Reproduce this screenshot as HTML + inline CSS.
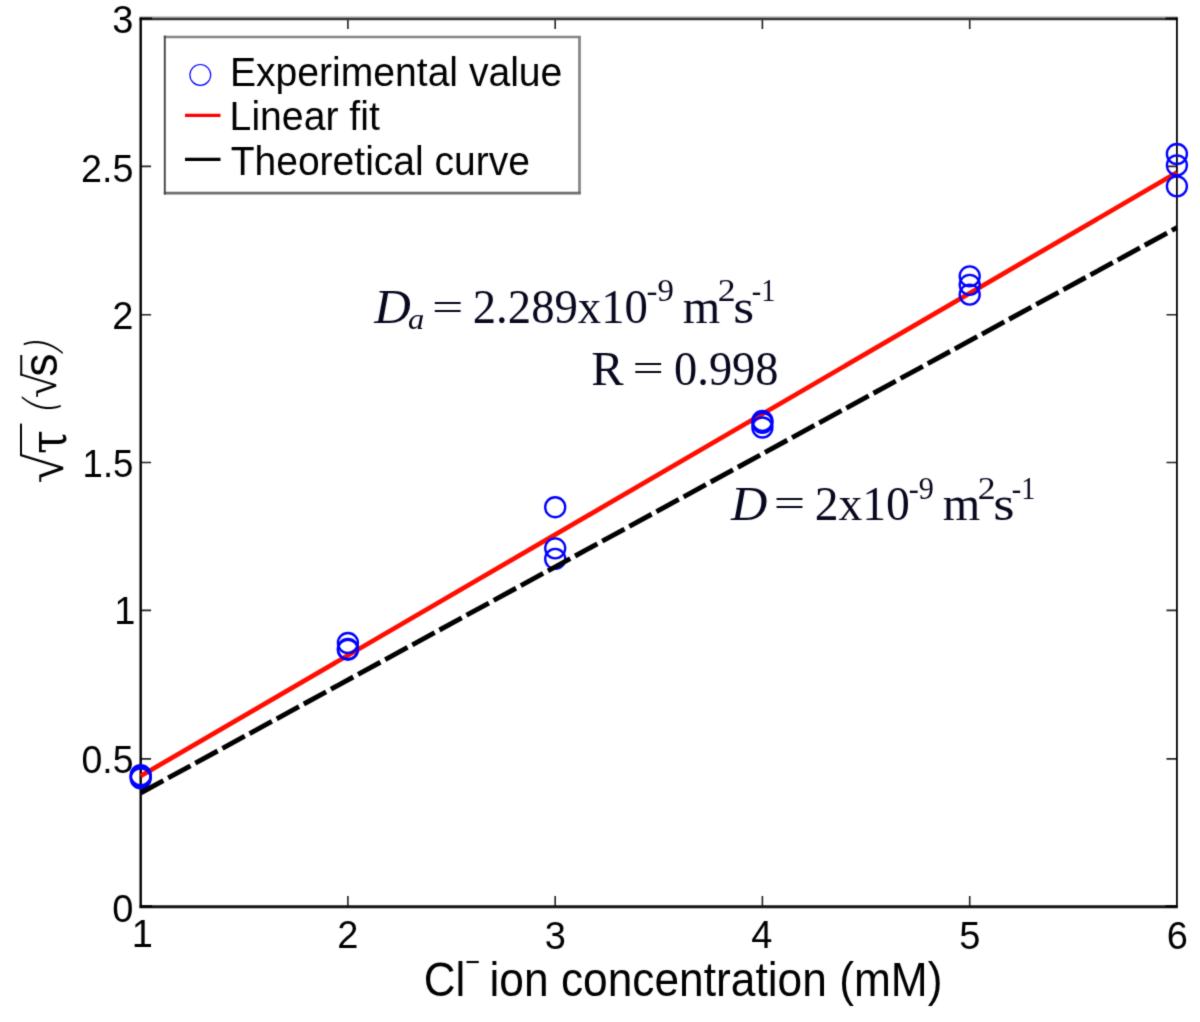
<!DOCTYPE html>
<html lang="en"><head><meta charset="utf-8"><title>Chronopotentiometry: sqrt(tau) vs Cl- ion concentration</title>
<style>html,body{margin:0;padding:0;background:#fff}body{width:1200px;height:1022px;overflow:hidden}svg{display:block}.s{font-family:"Liberation Sans", Arial, Helvetica, sans-serif;fill:#000}.t{font-family:"Liberation Serif", "Times New Roman", Times, serif;fill:#07071e}.r{font-family:"Liberation Serif", "Times New Roman", Times, serif}.d{font-family:"DejaVu Serif","Liberation Serif", "Times New Roman", Times, serif}.p{font-family:"DejaVu Sans Light","DejaVu Sans","Liberation Sans", Arial, Helvetica, sans-serif;font-weight:200;fill:#000}text{white-space:pre}</style></head><body>
<svg role="img" aria-label="Plot of square root of transition time versus chloride ion concentration" width="1200" height="1022" viewBox="0 0 1200 1022">
<rect width="1200" height="1022" fill="#fff"/>
<defs><filter id="soft" filterUnits="userSpaceOnUse" x="0" y="0" width="1200" height="1022" color-interpolation-filters="sRGB"><feConvolveMatrix order="3" kernelMatrix="0.0192 0.1001 0.0192 0.1001 0.5228 0.1001 0.0192 0.1001 0.0192" divisor="1" edgeMode="duplicate" preserveAlpha="false"/></filter></defs>
<g filter="url(#soft)">
<g stroke="#222" stroke-width="1.6" fill="none">
<path d="M347.9 906.3 V895.9M347.9 18.5 V28.9"/>
<path d="M555.2 906.3 V895.9M555.2 18.5 V28.9"/>
<path d="M762.4 906.3 V895.9M762.4 18.5 V28.9"/>
<path d="M969.7 906.3 V895.9M969.7 18.5 V28.9"/>
<path d="M140.7 758.9 H151.1M1176.9 758.9 H1166.5"/>
<path d="M140.7 610.4 H151.1M1176.9 610.4 H1166.5"/>
<path d="M140.7 462.5 H151.1M1176.9 462.5 H1166.5"/>
<path d="M140.7 314.8 H151.1M1176.9 314.8 H1166.5"/>
<path d="M140.7 166.4 H151.1M1176.9 166.4 H1166.5"/>
</g>
<path d="M139.5 17.3H1177.8" stroke="#9a9a9a" stroke-width="1.6" fill="none"/>
<path d="M139.5 19.1H1177.8" stroke="#343434" stroke-width="2.2" fill="none"/>
<path d="M1176.9 17.4V907.5" stroke="#000" stroke-width="1.8" fill="none"/>
<path d="M139.5 906.7H1177.8" stroke="#141414" stroke-width="3" fill="none"/>
<path d="M140.7 17.4V907.5" stroke="#000" stroke-width="2.4" fill="none"/>
<path d="M140.7 18.5h11.4M1176.9 18.5h-11.4M140.7 906.3h11.4M1176.9 906.3h-11.4" stroke="#000" stroke-width="2.2" fill="none"/>
<line x1="140.7" y1="776.00" x2="1176.9" y2="172.59" stroke="#ff0d00" stroke-width="4.7"/>
<g fill="none" stroke="#0000ff" stroke-width="2.35">
<circle cx="140.7" cy="775.2" r="10"/>
<circle cx="140.7" cy="776.7" r="10"/>
<circle cx="140.7" cy="778.3" r="10"/>
<circle cx="347.9" cy="643.0" r="10"/>
<circle cx="347.9" cy="649.7" r="10"/>
<circle cx="347.9" cy="648.9" r="10"/>
<circle cx="555.2" cy="507.2" r="10"/>
<circle cx="555.2" cy="548.3" r="10"/>
<circle cx="555.2" cy="558.9" r="10"/>
<circle cx="762.4" cy="420.8" r="10"/>
<circle cx="762.4" cy="422.8" r="10"/>
<circle cx="762.4" cy="427.5" r="10"/>
<circle cx="969.7" cy="276.3" r="10"/>
<circle cx="969.7" cy="284.8" r="10"/>
<circle cx="969.7" cy="294.6" r="10"/>
<circle cx="1176.9" cy="154.0" r="10"/>
<circle cx="1176.9" cy="165.3" r="10"/>
<circle cx="1176.9" cy="186.3" r="10"/>
</g>
<line x1="140.7" y1="792.96" x2="1176.9" y2="227.72" stroke="#000" stroke-width="4.9" stroke-dasharray="25.4 5.5" stroke-dashoffset="-0.4"/>
<text class="s" font-size="38" text-anchor="end" x="133.3" y="921.5">0</text>
<text class="s"><tspan x="81.45" y="773.13" font-size="38" textLength="52.00" lengthAdjust="spacingAndGlyphs">0.5</tspan></text>
<text class="s" font-size="38" text-anchor="end" x="135.5" y="623.7">1</text>
<text class="s"><tspan x="82.55" y="477.35" font-size="38" textLength="50.87" lengthAdjust="spacingAndGlyphs">1.5</tspan></text>
<text class="s" font-size="38" text-anchor="end" x="133.3" y="328.9">2</text>
<text class="s"><tspan x="81.06" y="181.77" font-size="38" textLength="52.40" lengthAdjust="spacingAndGlyphs">2.5</tspan></text>
<text class="s" font-size="38" text-anchor="end" x="133.3" y="33.3">3</text>
<g class="s" font-size="38" text-anchor="middle">
<text x="142.4" y="947.4">1</text>
<text x="347.9" y="947.5">2</text>
<text x="555.2" y="949.2">3</text>
<text x="761.8" y="947.5">4</text>
<text x="969.7" y="949.2">5</text>
<text x="1177.4" y="949.0">6</text>
</g>
<text class="s"><tspan x="423.80" y="996.00" font-size="48.5" textLength="41.57" lengthAdjust="spacingAndGlyphs">Cl</tspan><tspan x="465.34" y="972.20" font-size="30" textLength="14.78" lengthAdjust="spacingAndGlyphs">−</tspan> <tspan x="489.51" y="996.00" font-size="48.5" textLength="452.97" lengthAdjust="spacingAndGlyphs">ion concentration (mM)</tspan></text>
<g transform="rotate(-90)">
<text class="s"><tspan class="r"><tspan x="-483.35" y="62.70" font-size="54">√</tspan></tspan><tspan x="-453.98" y="65.90" font-size="51.5" class="d" textLength="23.84" lengthAdjust="spacingAndGlyphs">τ</tspan> </text>
<text class="p" font-size="43.9" transform="translate(-416.2 55.45) skewX(-12.7)">(</text>
<text class="s"><tspan class="r"><tspan x="-398.12" y="55.95" font-size="45">√</tspan></tspan><tspan x="-376.63" y="56.90" font-size="47.5" textLength="23.31" lengthAdjust="spacingAndGlyphs">s</tspan></text>
<text class="p" font-size="43.9" transform="translate(-357.6 57.05) skewX(-12.7)">)</text>
<path d="M-455.9 21H-423.6M-375.5 21.35H-355" stroke="#000" stroke-width="2" fill="none"/>
</g>
<rect x="164.8" y="37" width="414.7" height="156.2" fill="#fff"/>
<path d="M163.8 37H580.9" stroke="#858585" stroke-width="2.7" fill="none"/>
<path d="M579.5 37V193.2" stroke="#838383" stroke-width="2.7" fill="none"/>
<path d="M163.8 193.2H580.9" stroke="#6e6e6e" stroke-width="2.7" fill="none"/>
<path d="M164.8 35.6V194.6" stroke="#444" stroke-width="1.9" fill="none"/>
<circle cx="200.3" cy="74.9" r="10.4" fill="none" stroke="#0000ff" stroke-width="1.15"/>
<line x1="185" y1="115.3" x2="220.5" y2="115.3" stroke="#ff0000" stroke-width="3.3"/>
<line x1="185" y1="159.4" x2="220.5" y2="159.4" stroke="#000" stroke-width="3.3"/>
<text class="s"><tspan x="229.97" y="85.90" font-size="40" textLength="332.39" lengthAdjust="spacingAndGlyphs">Experimental value</tspan></text>
<text class="s"><tspan x="229.62" y="130.10" font-size="40" textLength="150.18" lengthAdjust="spacingAndGlyphs">Linear fit</tspan></text>
<text class="s"><tspan x="230.72" y="174.80" font-size="40" textLength="299.14" lengthAdjust="spacingAndGlyphs">Theoretical curve</tspan></text>
<text class="t"><tspan x="374.36" y="323.40" font-size="47.6" font-style="italic" textLength="36.55" lengthAdjust="spacingAndGlyphs">D</tspan><tspan x="408.07" y="329.05" font-size="30" font-style="italic" textLength="16.30" lengthAdjust="spacingAndGlyphs">a</tspan> <tspan x="432.08" y="321.20" font-size="40" textLength="31.35" lengthAdjust="spacingAndGlyphs">=</tspan> <tspan x="472.75" y="323.40" font-size="47.6" textLength="175.15" lengthAdjust="spacingAndGlyphs">2.289x10</tspan><tspan x="646.62" y="301.10" font-size="32.5" textLength="27.35" lengthAdjust="spacingAndGlyphs">-9</tspan> <tspan x="682.89" y="323.40" font-size="47.6" textLength="37.49" lengthAdjust="spacingAndGlyphs">m</tspan><tspan x="717.74" y="301.10" font-size="32.5" textLength="17.87" lengthAdjust="spacingAndGlyphs">2</tspan><tspan x="733.20" y="323.40" font-size="47.6" textLength="20.97" lengthAdjust="spacingAndGlyphs">s</tspan><tspan x="751.79" y="301.10" font-size="32.5" textLength="23.56" lengthAdjust="spacingAndGlyphs">-1</tspan></text>
<text class="t"><tspan x="591.39" y="385.00" font-size="47.6" textLength="32.38" lengthAdjust="spacingAndGlyphs">R</tspan> <tspan x="632.58" y="382.05" font-size="40" textLength="31.35" lengthAdjust="spacingAndGlyphs">=</tspan> <tspan x="674.11" y="385.00" font-size="47.6" textLength="104.38" lengthAdjust="spacingAndGlyphs">0.998</tspan></text>
<text class="t"><tspan x="731.05" y="519.55" font-size="47.6" font-style="italic" textLength="36.35" lengthAdjust="spacingAndGlyphs">D</tspan> <tspan x="773.77" y="517.10" font-size="40" textLength="31.47" lengthAdjust="spacingAndGlyphs">=</tspan> <tspan x="814.71" y="519.55" font-size="47.6">2x10</tspan><tspan x="908.72" y="499.05" font-size="32.5" textLength="25.14" lengthAdjust="spacingAndGlyphs">-9</tspan> <tspan x="942.89" y="519.55" font-size="47.6" textLength="37.49" lengthAdjust="spacingAndGlyphs">m</tspan><tspan x="977.74" y="499.05" font-size="32.5" textLength="17.87" lengthAdjust="spacingAndGlyphs">2</tspan><tspan x="993.16" y="519.55" font-size="47.6" textLength="21.34" lengthAdjust="spacingAndGlyphs">s</tspan><tspan x="1011.79" y="499.05" font-size="32.5" textLength="23.56" lengthAdjust="spacingAndGlyphs">-1</tspan></text>
</g>
</svg></body></html>
